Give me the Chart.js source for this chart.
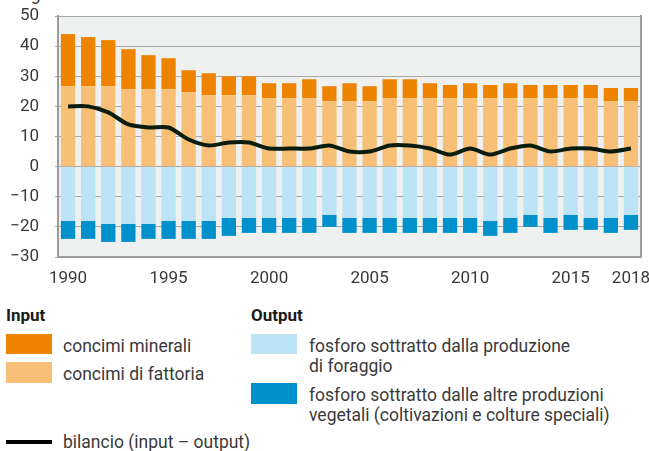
<!DOCTYPE html>
<html>
<head>
<meta charset="utf-8">
<script src="https://cdn.jsdelivr.net/npm/chart.js@4"></script>
<style>
  html, body { margin: 0; padding: 0; background: #fff; }
  body { width: 649px; height: 451px; overflow: hidden; position: relative;
         font-family: Roboto, "Liberation Sans", sans-serif; color: #333; }
  #wrap { position: absolute; left: 0; top: 0; width: 649px; height: 295px; }
  .t { position: absolute; font-size: 17.5px; font-weight: 400; line-height: 20px; white-space: nowrap; color: #3a3a3a; }
  .b { font-size: 17px; font-weight: bold; color: #1a1a1a; }
  .sw { position: absolute; width: 46px; }
</style>
</head>
<body>
<div class="t" style="left:22px; top:-16px;">kg</div>
<div id="wrap"><canvas id="c"></canvas></div>

<div class="t b" style="left:6px; top:305px;">Input</div>
<div class="sw" style="left:6px; top:334px; height:20px; background:#EE8300;"></div>
<div class="t" style="left:63px; top:336px;">concimi minerali</div>
<div class="sw" style="left:6px; top:362px; height:21px; background:#F8C076;"></div>
<div class="t" style="left:63px; top:364px;">concimi di fattoria</div>
<div class="sw" style="left:6px; top:440px; height:4px; background:#000;"></div>
<div class="t" style="left:63px; top:432px;">bilancio (input – output)</div>

<div class="t b" style="left:251px; top:305px;">Output</div>
<div class="sw" style="left:251px; top:334px; height:20px; background:#BDE3F6;"></div>
<div class="t" style="left:309px; top:336px;">fosforo sottratto dalla produzione<br>di foraggio</div>
<div class="sw" style="left:251px; top:383px; height:21px; background:#0091CD;"></div>
<div class="t" style="left:309px; top:385px;">fosforo sottratto dalle altre produzioni<br>vegetali (coltivazioni e colture speciali)</div>

<script>
const years = ['1990','1991','1992','1993','1994','1995','1996','1997','1998','1999',
  '2000','2001','2002','2003','2004','2005','2006','2007','2008','2009',
  '2010','2011','2012','2013','2014','2015','2016','2017','2018'];
const shownYears = ['1990','1995','2000','2005','2010','2015','2018'];

const concimiFattoria = [26.7,26.7,26.7,25.7,25.7,25.7,24.7,23.7,23.7,23.7,
  22.7,22.7,22.7,21.7,21.7,21.7,22.7,22.7,22.7,22.7,
  22.7,22.7,22.7,22.7,22.7,22.7,22.7,21.7,21.7];
const concimiMinerali = [17.3,16.3,15.3,13.3,11.3,10.3,7.3,7.3,6.3,6.3,
  5,5,6.3,5,6,5,6.3,6.3,5,4.4,
  5,4.4,5,4.4,4.4,4.4,4.4,4.4,4.4];
const sottrattoForaggio = [-18,-18,-19,-19,-19,-18,-18,-18,-17,-17,
  -17,-17,-17,-16,-17,-17,-17,-17,-17,-17,
  -17,-18,-17,-16,-17,-16,-17,-17,-16];
const sottrattoAltre = [-6,-6,-6,-6,-5,-6,-6,-6,-6,-5,
  -5,-5,-5,-4,-5,-5,-5,-5,-5,-5,
  -5,-5,-5,-4,-5,-5,-4,-5,-5];
const bilancio = [20,20,18,14,13,13,9,7,8,8,
  6,6,6,7,5,5,7,7,6,4,
  6,4,6,7,5,6,6,5,6];
const yTicks = [50,40,30,20,10,0,-10,-20,-30];

Chart.defaults.font.family = 'Roboto, "Liberation Sans", sans-serif';
Chart.defaults.font.size = 17;
Chart.defaults.font.weight = 400;
Chart.defaults.color = '#3a3a3a';

const plotDeco = {
  id: 'plotDeco',
  beforeDraw(chart) {
    const a = chart.chartArea, ctx = chart.ctx;
    ctx.save();
    ctx.fillStyle = '#EFF0F0';
    ctx.fillRect(a.left, a.top, a.right - a.left, a.bottom - a.top);
    ctx.restore();
  },
  afterDatasetsDraw(chart) {
    const a = chart.chartArea, ctx = chart.ctx;
    ctx.save();
    ctx.strokeStyle = '#9C9C9C';
    ctx.lineWidth = 2;
    ctx.beginPath();
    ctx.moveTo(a.right, a.top - 1);
    ctx.lineTo(a.right, a.bottom + 1);
    ctx.stroke();
    ctx.restore();
  }
};

const barCommon = { stack: 'bars', order: 1, borderWidth: 0, categoryPercentage: 1, barPercentage: 0.71 };

new Chart(document.getElementById('c'), {
  type: 'bar',
  data: {
    labels: years,
    datasets: [
      { type: 'line', label: 'bilancio (input – output)', data: bilancio, stack: 'line', order: 0,
        borderColor: '#0C1D10', borderWidth: 4, pointRadius: 0, tension: 0.25, fill: false },
      Object.assign({ label: 'concimi di fattoria', data: concimiFattoria, backgroundColor: '#F8C076' }, barCommon),
      Object.assign({ label: 'concimi minerali', data: concimiMinerali, backgroundColor: '#EE8300' }, barCommon),
      Object.assign({ label: 'fosforo sottratto dalla produzione di foraggio', data: sottrattoForaggio, backgroundColor: '#BDE3F6' }, barCommon),
      Object.assign({ label: 'fosforo sottratto dalle altre produzioni vegetali', data: sottrattoAltre, backgroundColor: '#0091CD' }, barCommon)
    ]
  },
  options: {
    responsive: true,
    maintainAspectRatio: false,
    animation: false,
    layout: { padding: { top: 16, right: 8, left: 0, bottom: 0 } },
    plugins: { legend: { display: false }, tooltip: { enabled: false } },
    scales: {
      x: {
        stacked: true,
        grid: { display: false, drawTicks: false },
        border: { display: true, color: '#9C9C9C', width: 2 },
        ticks: {
          autoSkip: false, maxRotation: 0, padding: 12,
          callback: function(v, i) { const l = years[i]; return shownYears.includes(l) ? l : ''; }
        },
        afterFit(s) { s.height = 38; s.paddingLeft = 0; s.paddingRight = 0; }
      },
      y: {
        stacked: true,
        min: -30, max: 50,
        afterBuildTicks(s) { s.ticks = yTicks.map(v => ({ value: v })); },
        grid: { color: '#A8A8A8', lineWidth: 1, tickLength: 3, drawTicks: true },
        border: { display: true, color: '#9C9C9C', width: 2 },
        ticks: { padding: 16,
          callback: v => (v < 0 ? '\u2212' + Math.abs(v) : String(v)) },
        afterFit(s) { s.width = 58; s.paddingTop = 0; s.paddingBottom = 0; }
      }
    }
  },
  plugins: [plotDeco]
});
</script>
</body>
</html>
